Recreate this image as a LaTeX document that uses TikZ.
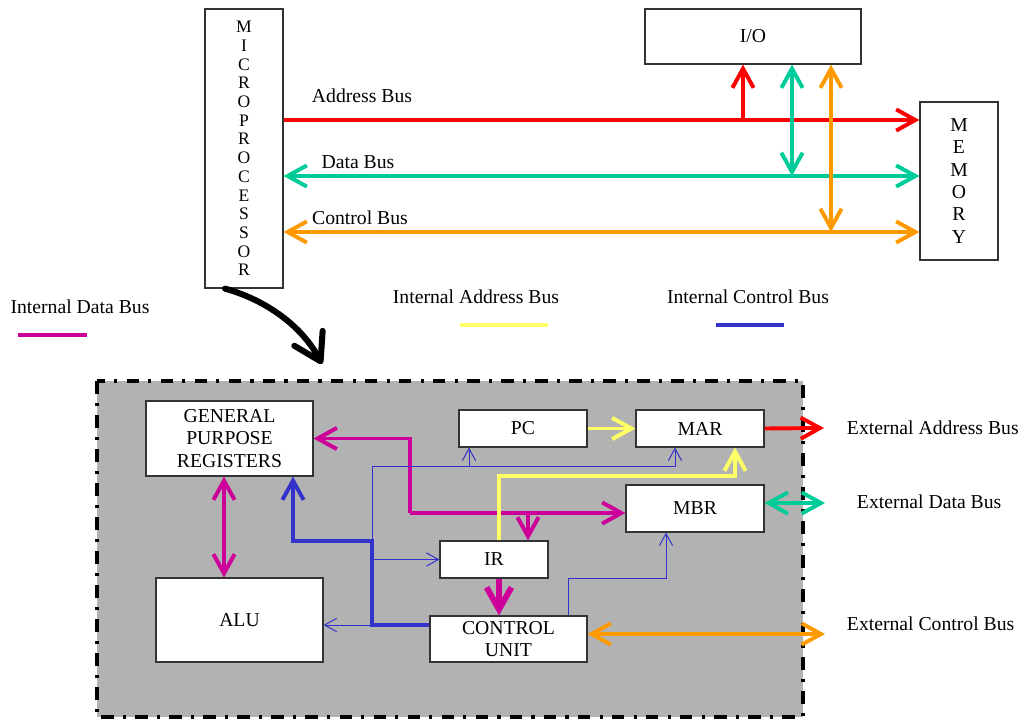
\documentclass[tikz,border=0pt]{standalone}
\usepackage{fontspec}
\setmainfont{Liberation Serif}
\usetikzlibrary{arrows.meta}

\definecolor{addrred}{HTML}{FF0000}
\definecolor{datagreen}{HTML}{00CC99}
\definecolor{ctlorange}{HTML}{FF9900}
\definecolor{intdata}{HTML}{CC0099}
\definecolor{intaddr}{HTML}{FFFF66}
\definecolor{intctl}{HTML}{3333CC}

\begin{document}
\begin{tikzpicture}[
    x=0.025cm, y=-0.025cm,
    font=\fontsize{14}{16}\selectfont,
    >={Straight Barb[length=4.8mm, width=5.3mm]},
    box/.style={draw=black!80, line width=0.8pt, fill=white, align=center, inner sep=0pt},
    reg/.style={box, minimum width=3.2cm, minimum height=0.925cm},
    bus/.style={line width=2.8pt},
    wire/.style={draw=intctl, line width=0.7pt, -{Straight Barb[length=3mm, width=3.3mm]}},
    frame/.style={draw=black, fill=black!30, line width=2.8pt,
                  dash pattern=on 9pt off 6.5pt on 2.2pt off 6.5pt},
  ]

  \useasboundingbox (0,0) rectangle (1019,719);

  % System level: processor, I/O and memory on three buses
  \node[box, minimum width=1.95cm, minimum height=6.975cm,
        font=\fontsize{12.5}{13.3}\selectfont] (mp) at (244,148.5)
        {M\\I\\C\\R\\O\\P\\R\\O\\C\\E\\S\\S\\O\\R};
  \node[box, minimum width=5.4cm, minimum height=1.375cm] (io) at (753,36.5) {I/O};
  \node[box, minimum width=1.95cm, minimum height=3.95cm,
        font=\fontsize{14}{15.9}\selectfont] (mem) at (959,181) {M\\E\\M\\O\\R\\Y};

  \coordinate (abus) at (0,120);
  \coordinate (dbus) at (0,176);
  \coordinate (cbus) at (0,232);
  \coordinate (ta) at (743,120);
  \coordinate (td) at (792,176);
  \coordinate (tc) at (831,232);

  \draw[bus, addrred, ->] (mp.east |- abus) -- (mem.west |- abus);
  \draw[bus, datagreen, <->] (mp.east |- dbus) -- (mem.west |- dbus);
  \draw[bus, ctlorange, <->] (mp.east |- cbus) -- (mem.west |- cbus);
  \draw[bus, addrred, ->] (ta) -- (ta |- io.south);
  \draw[bus, datagreen, <->] (td |- io.south) -- (td);
  \draw[bus, ctlorange, <->] (tc |- io.south) -- (tc);

  \node (lab1) at (362,96) {Address Bus};
  \node (lab2) at (358,162) {Data Bus};
  \node (lab3) at (360,218) {Control Bus};

  % Legend
  \node (leg1) at (80,307) {Internal Data Bus};
  \node (leg2) at (476,297) {Internal Address Bus};
  \node (leg3) at (748,297) {Internal Control Bus};
  \draw[line width=3.4pt, intdata] (18,335) -- (87,335);
  \draw[line width=3.4pt, intaddr] (460,325) -- (548,325);
  \draw[line width=3.4pt, intctl] (716,325) -- (784,325);

  % Zoom into the processor
  \coordinate (into) at (322,364);
  \draw[line width=4.3pt, line cap=round, -{Straight Barb[length=6.5mm, width=8mm, round]}]
    ([xshift=-0.475cm]mp.south) .. controls (266,300) and (302,326) .. (into);

  \draw[frame] (97,381) rectangle (803,717);

  % Inside the processor
  \node[box, minimum width=4.175cm, minimum height=1.875cm] (gpr) at (229.5,438.5) {GENERAL\\PURPOSE\\REGISTERS};
  \node[box, minimum width=4.175cm, minimum height=2.1cm] (alu) at (239.5,620) {ALU};
  \node[reg] (pc) at (523,428.5) {PC};
  \node[reg] (mar) at (700,428.5) {MAR};
  \node[box, minimum width=3.45cm, minimum height=1.175cm] (mbr) at (695,508.5) {MBR};
  \node[box, minimum width=2.7cm, minimum height=0.925cm] (ir) at (494,559.5) {IR};
  \node[box, minimum width=3.925cm, minimum height=1.15cm] (cu) at (508.5,639) {CONTROL\\UNIT};

  % internal data bus
  \coordinate (jd) at (410,513);
  \coordinate (jir) at (528,513);
  \draw[bus, intdata, ->] (jd) |- (gpr.east);
  \draw[bus, intdata, ->] (jd) -- (mbr.west |- jd);
  \draw[bus, intdata, ->] (jir) -- (jir |- ir.north);
  \draw[bus, intdata, <->] (gpr.south -| 224,0) -- (alu.north -| 224,0);
  \draw[line width=4.2pt, intdata, -{Straight Barb[length=5.5mm, width=6.2mm]}]
    (ir.south -| 499,0) -- (cu.north -| 499,0);

  % internal address bus
  \coordinate (ya) at (499,476);
  \coordinate (yb) at (735,476);
  \draw[bus, intaddr, ->] (pc.east) -- (mar.west);
  \draw[bus, intaddr, ->] (ya |- ir.north) -- (ya) -- (yb) -- (yb |- mar.south);

  % internal control bus
  \coordinate (cb) at (372,625);
  \coordinate (cc) at (293,541);
  \coordinate (cw) at (372,466);
  \coordinate (cpc) at (469,466);
  \coordinate (cmar) at (675,466);
  \coordinate (cm1) at (568,578);
  \coordinate (cm2) at (666,578);
  \draw[bus, intctl, ->] (cu.west |- cb) -- (cb) |- (cc) -- (cc |- gpr.south);
  \draw[wire] (cb) -- (cb -| alu.east);
  \draw[wire] (cb |- ir.west) -- (ir.west);
  \draw[wire] (cb |- cc) -- (cw) -- (cmar) -- (cmar |- mar.south);
  \draw[wire] (cpc) -- (cpc |- pc.south);
  \draw[wire] (cm1 |- cu.north) -- (cm1) -- (cm2) -- (cm2 |- mbr.south);

  % external buses
  \coordinate (xa) at (824,428);
  \coordinate (xd) at (825,503);
  \coordinate (xc) at (825,634);
  \draw[bus, addrred, ->] (mar.east) -- (xa);
  \draw[bus, datagreen, <->] (mbr.east |- xd) -- (xd);
  \draw[bus, ctlorange, <->] (cu.east |- xc) -- (xc);
  \node[anchor=west] (ext1) at (842,428) {External Address Bus};
  \node[anchor=west] (ext2) at (852,502) {External Data Bus};
  \node[anchor=west] (ext3) at (842,624) {External Control Bus};

\end{tikzpicture}
\end{document}
